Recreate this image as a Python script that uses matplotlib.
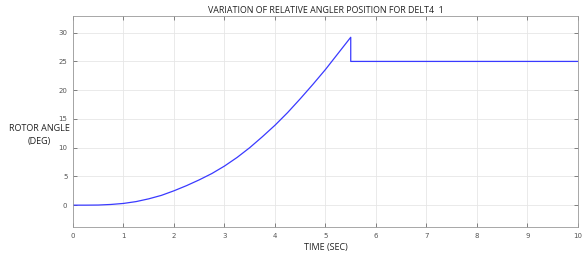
import matplotlib
matplotlib.use('Agg')
import matplotlib.pyplot as plt

# rotor angle readings (deg) vs time (sec)
time_sec = [0, 0.25, 0.5, 0.75, 1, 1.25, 1.5, 1.75, 2, 2.25, 2.5, 2.75, 3, 3.25,
            3.5, 3.75, 4, 4.25, 4.5, 4.75, 5, 5.25, 5.5, 5.5, 10]
rotor_deg = [0, 0, 0.02, 0.12, 0.3, 0.62, 1.1, 1.7, 2.5, 3.4, 4.4, 5.5, 6.8, 8.3,
             10.0, 11.9, 13.9, 16.1, 18.5, 21.0, 23.6, 26.4, 29.2, 25.0, 25.0]
xticks = list(range(0, 11))
yticks = [0, 5, 10, 15, 20, 25, 30]

fig = plt.figure(figsize=(5.83, 2.54), dpi=100)
ax = fig.add_axes([0.1252, 0.1063, 0.8662, 0.8307])

ax.plot(time_sec, rotor_deg, color='#3a3aff', linewidth=0.9)

ax.set_xlim(0, 10)
ax.set_ylim(-3.8, 32.9)
ax.set_xticks(xticks)
ax.set_yticks(yticks)
ax.grid(True, color='#e6e6e6', linewidth=0.6)
ax.tick_params(direction='in', length=3, width=0.5, labelsize=5, colors='#555555',
               top=True, right=True, pad=4)
for s in ax.spines.values():
    s.set_color('#999999')
    s.set_linewidth(0.6)

ax.set_title('VARIATION OF RELATIVE ANGLER POSITION FOR DELT4  1',
             fontsize=6.4, family='Open Sans', color='#222222', pad=2)
ax.set_xlabel('TIME (SEC)', fontsize=6.5, family='Open Sans', color='#222222', labelpad=3)
fig.text(0.068, 0.47, 'ROTOR ANGLE\n(DEG)', ha='center', va='center', fontsize=6.5,
         family='Open Sans', color='#222222', linespacing=1.6)

fig.savefig('out.png', dpi=100)
